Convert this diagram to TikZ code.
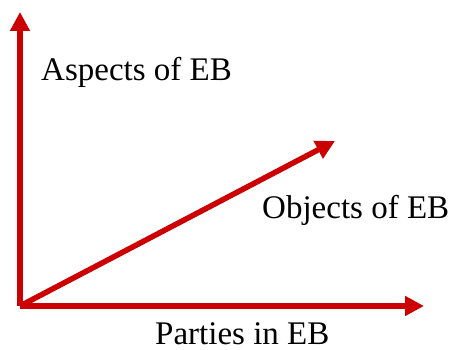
\documentclass[tikz,border=0pt]{standalone}
\usepackage{fontspec}
\setmainfont{Liberation Serif}
\usetikzlibrary{arrows.meta}
\definecolor{axisred}{RGB}{204,0,0}
\begin{document}
\begin{tikzpicture}[x=1pt,y=1pt,
  axis/.style={draw=axisred, line width=5.5pt,
    -{Triangle[length=19pt,width=19pt]}},
  lbl/.style={inner sep=0pt, anchor=base west,
    font=\fontsize{33}{40}\selectfont}]
  \useasboundingbox (0,0) rectangle (451,350);
  % common origin and axis ends
  \coordinate (o) at (20,44);
  \coordinate (up) at (20,338);
  \coordinate (right) at (424,44);
  \coordinate (diag) at (335,209);
  % axes
  \draw[axis] (o) -- (up);
  \draw[axis] (o) -- (right);
  \draw[axis] (o) -- (diag);
  % axis labels
  \node[lbl] (aspects) at (41,269) {Aspects of EB};
  \node[lbl] (objects) at (262,131) {Objects of EB};
  \node[lbl] (parties) at (155,5) {Parties in EB};
\end{tikzpicture}
\end{document}
